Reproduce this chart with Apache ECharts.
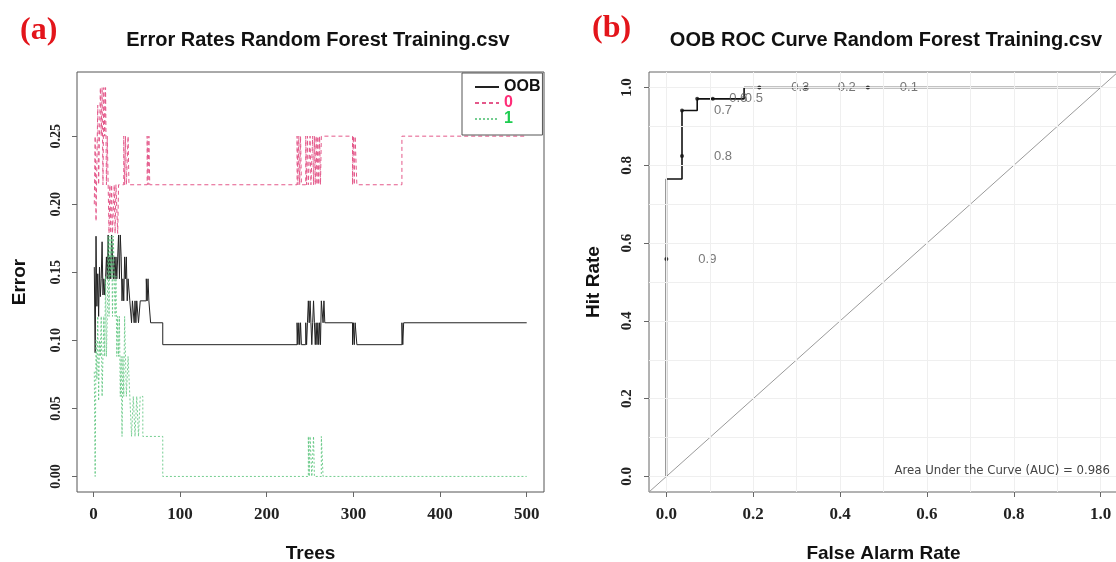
<!DOCTYPE html>
<html>
<head>
<meta charset="utf-8">
<script src="https://cdn.jsdelivr.net/npm/echarts@6/dist/echarts.min.js"></script>
<style>
  html, body { margin: 0; padding: 0; background: #fff; }
  #main { width: 1116px; height: 562px; }
</style>
</head>
<body>
<div id="main"></div>
<script>
// (a) error rates, change points [tree, error]; each value holds until the next tree
const oobPts = [
  [1, 0.1538], [2, 0.0909], [3, 0.1765], [4, 0.125], [5, 0.1489], [6, 0.1176], [7, 0.1538], [8, 0.1321],
  [9, 0.1455], [10, 0.1724], [11, 0.1333], [12, 0.1452], [13, 0.1333], [14, 0.1452], [15, 0.1613], [16, 0.1452],
  [17, 0.1774], [18, 0.1452], [19, 0.1613], [20, 0.1452], [21, 0.1774], [22, 0.1613], [23, 0.1452], [24, 0.1613],
  [25, 0.1452], [26, 0.1613], [27, 0.1452], [28, 0.1613], [29, 0.1774], [30, 0.1452], [31, 0.1774], [32, 0.1613],
  [33, 0.129], [34, 0.1452], [35, 0.129], [36, 0.1613], [37, 0.1452], [38, 0.1613], [39, 0.129], [40, 0.1452],
  [42, 0.129], [44, 0.1129], [45, 0.129], [47, 0.1129], [48, 0.129], [49, 0.1129], [50, 0.129], [52, 0.1129],
  [54, 0.129], [61, 0.1452], [62, 0.129], [63, 0.1452], [64, 0.129], [66, 0.1129], [80, 0.0968],
  [235, 0.1129], [236, 0.0968], [237, 0.1129], [238, 0.0968], [239, 0.1129], [240, 0.0968], [245, 0.1129],
  [246, 0.0968], [247, 0.1129], [248, 0.129], [249, 0.1129], [250, 0.129], [251, 0.1129], [252, 0.0968],
  [253, 0.1129], [254, 0.129], [255, 0.1129], [256, 0.0968], [257, 0.1129], [258, 0.0968], [259, 0.1129],
  [260, 0.0968], [261, 0.1129], [262, 0.0968], [263, 0.129], [265, 0.1129], [266, 0.129], [267, 0.1129],
  [299, 0.0968], [300, 0.1129], [301, 0.0968], [302, 0.1129], [304, 0.0968], [356, 0.1129], [357, 0.0968],
  [358, 0.1129], [500, 0.1129]
];
const cls0Pts = [
  [1, 0.2], [2, 0.25], [3, 0.1875], [4, 0.2308], [5, 0.2727], [6, 0.2143], [7, 0.25], [8, 0.2857],
  [9, 0.25], [10, 0.2857], [11, 0.2143], [12, 0.2857], [13, 0.25], [14, 0.2857], [15, 0.2143], [16, 0.25],
  [17, 0.2143], [18, 0.1786], [19, 0.2143], [20, 0.1786], [21, 0.2143], [22, 0.1786], [24, 0.2143], [25, 0.1786],
  [26, 0.2143], [28, 0.1786], [29, 0.2143], [35, 0.25], [36, 0.2143], [37, 0.25], [38, 0.2143], [40, 0.25],
  [41, 0.2143], [62, 0.25], [63, 0.2143], [64, 0.25], [65, 0.2143],
  [235, 0.25], [236, 0.2143], [237, 0.25], [238, 0.2143], [239, 0.25], [240, 0.2143], [245, 0.25], [246, 0.2143],
  [247, 0.25], [248, 0.2143], [250, 0.25], [251, 0.2143], [253, 0.25], [254, 0.2143], [255, 0.25], [256, 0.2143],
  [257, 0.25], [258, 0.2143], [259, 0.25], [260, 0.2143], [261, 0.25], [262, 0.2143], [263, 0.25], [299, 0.2143],
  [300, 0.25], [301, 0.2143], [302, 0.25], [304, 0.2143], [356, 0.25], [500, 0.25]
];
const cls1Pts = [
  [1, 0.0769], [2, 0], [3, 0.1], [4, 0.0714], [5, 0.1176], [6, 0.0556], [7, 0.1], [8, 0.0882],
  [9, 0.1176], [10, 0.0588], [11, 0.0882], [12, 0.1176], [13, 0.0882], [14, 0.1471], [15, 0.0882], [16, 0.1176],
  [17, 0.1765], [18, 0.1176], [19, 0.1765], [20, 0.1471], [21, 0.1765], [22, 0.1176], [23, 0.1765], [24, 0.1471],
  [25, 0.1176], [26, 0.1471], [27, 0.0882], [28, 0.1176], [29, 0.0882], [30, 0.1176], [31, 0.0588], [32, 0.0882],
  [33, 0.0294], [34, 0.0882], [35, 0.0588], [36, 0.1176], [37, 0.0882], [38, 0.0588], [40, 0.0882], [42, 0.0588],
  [44, 0.0294], [46, 0.0588], [48, 0.0294], [50, 0.0588], [52, 0.0294], [54, 0.0588], [57, 0.0294], [80, 0],
  [248, 0.0294], [249, 0], [250, 0.0294], [252, 0], [254, 0.0294], [255, 0], [263, 0.0294], [265, 0], [500, 0]
];
const treeTicks = [0, 100, 200, 300, 400, 500];
const errTicks = [0, 0.05, 0.1, 0.15, 0.2, 0.25];

// (b) OOB ROC curve
const rocFpr = [0, 0, 0.036, 0.036, 0.071, 0.071, 0.179, 0.179, 1];
const rocTpr = [0, 0.765, 0.765, 0.941, 0.941, 0.971, 0.971, 1, 1];
const cutFpr = [0, 0.036, 0.036, 0.071, 0.107, 0.214, 0.321, 0.464];
const cutTpr = [0.559, 0.824, 0.941, 0.971, 0.971, 1, 1, 1];
const cutLabels = ['0.9', '0.8', '0.7', '0.6', '0.5', '0.3', '0.2', '0.1'];
const rateTicks = [0, 0.2, 0.4, 0.6, 0.8, 1];
const gridVals = [0, 0.1, 0.2, 0.3, 0.4, 0.5, 0.6, 0.7, 0.8, 0.9, 1];
const diagVals = [-0.04, 1.04];

const serifLbl = { fontFamily: 'Liberation Serif', fontWeight: 'bold', color: '#222' };
const nameStyle = { fontFamily: 'Liberation Sans', fontWeight: 'bold', fontSize: 19, color: '#111' };
const tick = { show: true, length: 5, lineStyle: { color: '#666' } };
const noLine = { show: false, onZero: false };
const narrow = "'Liberation Sans Narrow', 'DejaVu Sans Condensed', 'Liberation Sans', sans-serif";

let myChart = echarts.init(document.getElementById('main'));
let option = {
  animation: false,
  backgroundColor: '#fff',
  title: [
    { text: '(a)', left: 20, top: 15, padding: 0,
      textStyle: { color: '#e3151b', fontFamily: 'Liberation Serif', fontWeight: 'bold', fontSize: 32 } },
    { text: 'Error Rates Random Forest Training.csv', left: 318, top: 30, padding: 0, textAlign: 'center',
      textStyle: { fontFamily: 'Liberation Sans', fontWeight: 'bold', fontSize: 20, color: '#111' } },
    { text: '(b)', left: 592, top: 13, padding: 0,
      textStyle: { color: '#e3151b', fontFamily: 'Liberation Serif', fontWeight: 'bold', fontSize: 32 } },
    { text: 'OOB ROC Curve Random Forest Training.csv', left: 886, top: 30, padding: 0, textAlign: 'center',
      textStyle: { fontFamily: 'Liberation Sans', fontWeight: 'bold', fontSize: 20, color: '#111' } },
    { text: 'Area Under the Curve (AUC) = 0.986', left: 1110, top: 464, padding: 0, textAlign: 'right',
      textStyle: { fontFamily: narrow, fontWeight: 'normal', fontSize: 13, color: '#444' } }
  ],
  legend: {
    left: 462, top: 73, orient: 'vertical',
    backgroundColor: '#fff', borderColor: '#555', borderWidth: 1, borderRadius: 0,
    padding: [6, 2, 8, 12], itemGap: 0, itemWidth: 24, itemHeight: 14,
    itemStyle: { opacity: 0 },
    textStyle: { fontFamily: 'Liberation Sans', fontWeight: 'bold', fontSize: 16 },
    data: [
      { name: 'OOB', textStyle: { color: '#111' } },
      { name: '0', textStyle: { color: '#ff2d78' } },
      { name: '1', textStyle: { color: '#1ecc50' } }
    ]
  },
  grid: [
    { left: 77, top: 72, width: 467, height: 420, show: true, borderColor: '#555', borderWidth: 1,
      outerBoundsMode: 'none' },
    { left: 649, top: 72, width: 469, height: 420, show: true, borderColor: '#666', borderWidth: 1,
      outerBoundsMode: 'none' }
  ],
  xAxis: [
    { type: 'value', gridIndex: 0, min: -18.96, max: 519.96,
      axisLine: noLine, splitLine: { show: false },
      axisTick: Object.assign({ customValues: treeTicks }, tick),
      axisLabel: Object.assign({ customValues: treeTicks, fontSize: 17, margin: 14 }, serifLbl),
      name: 'Trees', nameLocation: 'middle', nameGap: 52, nameTextStyle: nameStyle },
    { type: 'value', gridIndex: 1, min: -0.04, max: 1.04,
      axisLine: noLine, splitLine: { show: false },
      axisTick: Object.assign({ customValues: rateTicks }, tick),
      axisLabel: Object.assign({ customValues: rateTicks, fontSize: 17, margin: 14,
        formatter: v => v.toFixed(1) }, serifLbl),
      name: 'False Alarm Rate', nameLocation: 'middle', nameGap: 52, nameTextStyle: nameStyle }
  ],
  yAxis: [
    { type: 'value', gridIndex: 0, min: -0.01143, max: 0.29714,
      axisLine: noLine, splitLine: { show: false },
      axisTick: Object.assign({ customValues: errTicks }, tick),
      axisLabel: Object.assign({ customValues: errTicks, fontSize: 14, margin: 14, rotate: 90,
        formatter: v => v.toFixed(2) }, serifLbl),
      name: 'Error', nameLocation: 'middle', nameGap: 48, nameTextStyle: nameStyle },
    { type: 'value', gridIndex: 1, min: -0.04, max: 1.04,
      axisLine: noLine, splitLine: { show: false },
      axisTick: Object.assign({ customValues: rateTicks }, tick),
      axisLabel: Object.assign({ customValues: rateTicks, fontSize: 15, margin: 14, rotate: 90,
        formatter: v => v.toFixed(1) }, serifLbl),
      name: 'Hit Rate', nameLocation: 'middle', nameGap: 46, nameTextStyle: nameStyle }
  ],
  series: [
    { name: 'OOB', type: 'line', xAxisIndex: 0, yAxisIndex: 0, step: 'end', symbol: 'none',
      data: oobPts, color: '#222', lineStyle: { color: '#222', width: 1 } },
    { name: '0', type: 'line', xAxisIndex: 0, yAxisIndex: 0, step: 'end', symbol: 'none',
      data: cls0Pts, color: '#e4588a', lineStyle: { color: '#e4588a', width: 1, type: [4, 3] } },
    { name: '1', type: 'line', xAxisIndex: 0, yAxisIndex: 0, step: 'end', symbol: 'none',
      data: cls1Pts, color: '#5cc47c', lineStyle: { color: '#5cc47c', width: 1, type: [2, 2], opacity: 0.85 } },
    { type: 'line', xAxisIndex: 1, yAxisIndex: 1, symbol: 'none', silent: true, z: 1,
      data: diagVals.map(v => [v, v]), lineStyle: { color: '#9a9a9a', width: 1 },
      markLine: {
        silent: true, symbol: ['none', 'none'], label: { show: false },
        lineStyle: { color: '#efefef', type: 'solid', width: 1 },
        data: gridVals.map(v => ({ xAxis: v })).concat(gridVals.map(v => ({ yAxis: v })))
      } },
    { type: 'line', xAxisIndex: 1, yAxisIndex: 1, symbol: 'none', z: 3,
      data: rocFpr.map((x, i) => [x, rocTpr[i]]), lineStyle: { color: '#111', width: 1.6 } },
    { type: 'scatter', xAxisIndex: 1, yAxisIndex: 1, symbol: 'circle', symbolSize: 4, z: 4,
      data: cutFpr.map((x, i) => [x, cutTpr[i]]), itemStyle: { color: '#111' },
      label: { show: true, position: 'inside', offset: [41, 0], fontSize: 13,
        fontFamily: 'Liberation Sans', color: '#555', formatter: p => cutLabels[p.dataIndex] } }
  ]
};
myChart.setOption(option);
</script>
</body>
</html>
